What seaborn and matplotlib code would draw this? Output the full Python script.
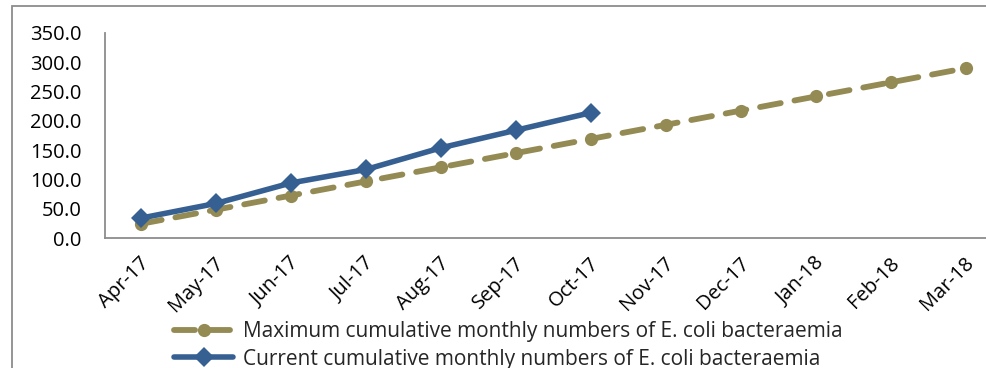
import matplotlib
matplotlib.use("Agg")
import matplotlib.pyplot as plt
import matplotlib.transforms as mtransforms
from matplotlib.patches import Rectangle
import seaborn as sns
import pandas as pd

# Financial year months
months = ["Apr-17", "May-17", "Jun-17", "Jul-17", "Aug-17", "Sep-17",
          "Oct-17", "Nov-17", "Dec-17", "Jan-18", "Feb-18", "Mar-18"]

# Cumulative trajectory ceiling for the year
maximum_cumulative = [24.2, 48.3, 72.5, 96.7, 120.8, 145.0,
                      169.2, 193.3, 217.5, 241.7, 265.8, 290.0]

# Cumulative cases reported so far (Apr-Oct)
current_cumulative = [34, 59, 94, 117, 154, 184, 214]

max_label = "Maximum cumulative monthly numbers of E. coli bacteraemia"
cur_label = "Current cumulative monthly numbers of E. coli bacteraemia"

yticks = [0, 50, 100, 150, 200, 250, 300, 350]

gold = "#948A54"
blue = "#376092"
grey = "#8C8C8C"
fs = 14.5

sns.set_theme(style="white")
plt.rcParams["font.family"] = ["Open Sans", "DejaVu Sans"]

W, H = 987, 368
fig = plt.figure(figsize=(W / 100, H / 100), dpi=100)
ax = fig.add_axes([105 / W, 1 - 238 / H, (W - 105) / W, (238 - 33) / H])

max_df = pd.DataFrame({"month": months, "value": maximum_cumulative})
cur_df = pd.DataFrame({"month": months[:len(current_cumulative)],
                       "value": current_cumulative})

sns.lineplot(data=max_df, x="month", y="value", ax=ax, sort=False,
             color=gold, linewidth=4.2, marker="o", markersize=9.5,
             markeredgewidth=0, dashes=(3.6, 2.4), label=max_label)
ax.lines[-1].set_dash_capstyle("round")
sns.lineplot(data=cur_df, x="month", y="value", ax=ax, sort=False,
             color=blue, linewidth=4.0, marker="D", markersize=10,
             markeredgewidth=0, label=cur_label)

ax.set_xlim(-0.48, 11.28)
ax.set_ylim(0, 350)
ax.set_yticks(yticks)
ax.set_yticklabels([f"{v:.1f}" for v in yticks])
ax.set_xlabel("")
ax.set_ylabel("")

for side in ["top", "right"]:
    ax.spines[side].set_visible(False)
for side in ["left", "bottom"]:
    ax.spines[side].set_color(grey)
    ax.spines[side].set_linewidth(1.3)

ax.tick_params(axis="y", length=0, pad=17, labelsize=fs, labelcolor="black")
ax.tick_params(axis="x", length=0, pad=16, labelsize=fs, labelcolor="black")
shift = mtransforms.ScaledTranslation(5 / 100, 0, fig.dpi_scale_trans)
for lab in ax.get_xticklabels():
    lab.set_rotation(45)
    lab.set_ha("right")
    lab.set_va("center")
    lab.set_rotation_mode("anchor")
    lab.set_transform(lab.get_transform() + shift)

ax.get_legend().remove()
handles = ax.get_lines()[:2]
fig.legend(handles=handles, labels=[max_label, cur_label],
           loc="upper left", bbox_to_anchor=(174 / W, 1 - 321 / H),
           frameon=False, fontsize=15, handlelength=2.85, handletextpad=0.45,
           labelspacing=0.32, borderpad=0, borderaxespad=0)

# Outer chart-area border
fig.patches.append(Rectangle((12 / W, -0.1), 1.2, 1.1 - 6 / H,
                             transform=fig.transFigure, fill=False,
                             edgecolor=grey, linewidth=1.3, zorder=0))

fig.savefig("out.png", dpi=100)
